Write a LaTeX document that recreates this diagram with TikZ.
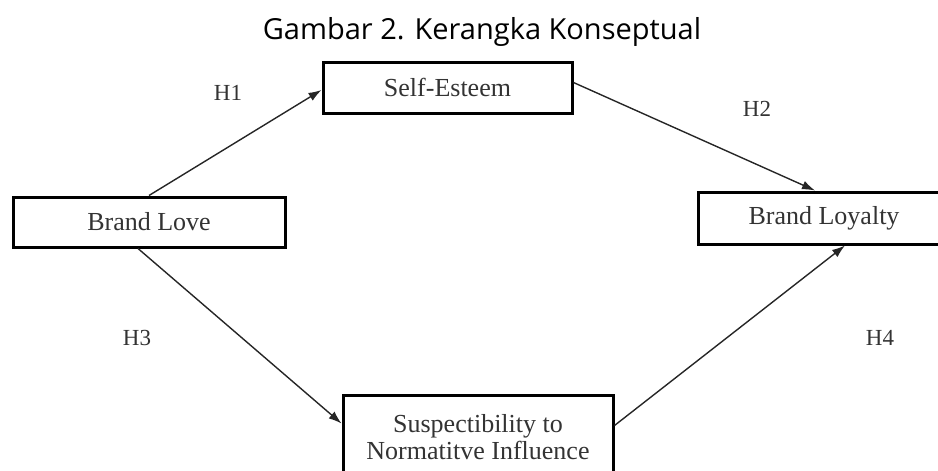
\documentclass[tikz,border=0pt]{standalone}
\usepackage{fontspec}
\setmainfont{Liberation Serif}
\newfontfamily\titlefont{Open Sans}
\usetikzlibrary{arrows.meta}

\begin{document}
\begin{tikzpicture}[x=1pt, y=-1pt,
            box/.style = {draw, line width=3pt, inner sep=0pt, align=center, text=black!80,
                          font=\fontsize{26}{26}\selectfont},
            hyp/.style = {text=black!80, font=\fontsize{23}{23}\selectfont},
            link/.style = {-{Latex[length=13pt, width=9pt]}, line width=1.4pt, black!85}]
            \useasboundingbox (0,0) rectangle (938,471);
            \node[anchor=base, font=\titlefont\fontsize{29}{29}\selectfont] (title) at (482,39) {Gambar 2. Kerangka Konseptual};
            \node[box, minimum width=249pt, minimum height=51pt] (esteem) at (447.5,87.5) {Self-Esteem};
            \node[box, minimum width=272pt, minimum height=50pt] (love) at (149,222) {Brand Love};
            \node[box, minimum width=252pt, minimum height=52pt] (loyal) at (824,218) {Brand Loyalty};
            \node[box, minimum width=270pt, minimum height=85pt] (susc) at (478,437.5) {Suspectibility to\\[1pt] Normatitve Influence};
            \node[hyp] (h1) at (228,93) {H1};
            \node[hyp] (h2) at (757,109) {H2};
            \node[hyp] (h3) at (137,338) {H3};
            \node[hyp] (h4) at (880,338) {H4};
            \draw[link] (love.north) -- ([yshift=-2.5pt]esteem.west);
            \draw[link] ([yshift=5pt]esteem.east) -- ([xshift=-9pt]loyal.north);
            \draw[link] ([xshift=-11pt]love.south) -- ([yshift=14pt]susc.west);
            \draw[link] ([yshift=12pt]susc.east) -- ([xshift=21pt]loyal.south);
\end{tikzpicture}
\end{document}
